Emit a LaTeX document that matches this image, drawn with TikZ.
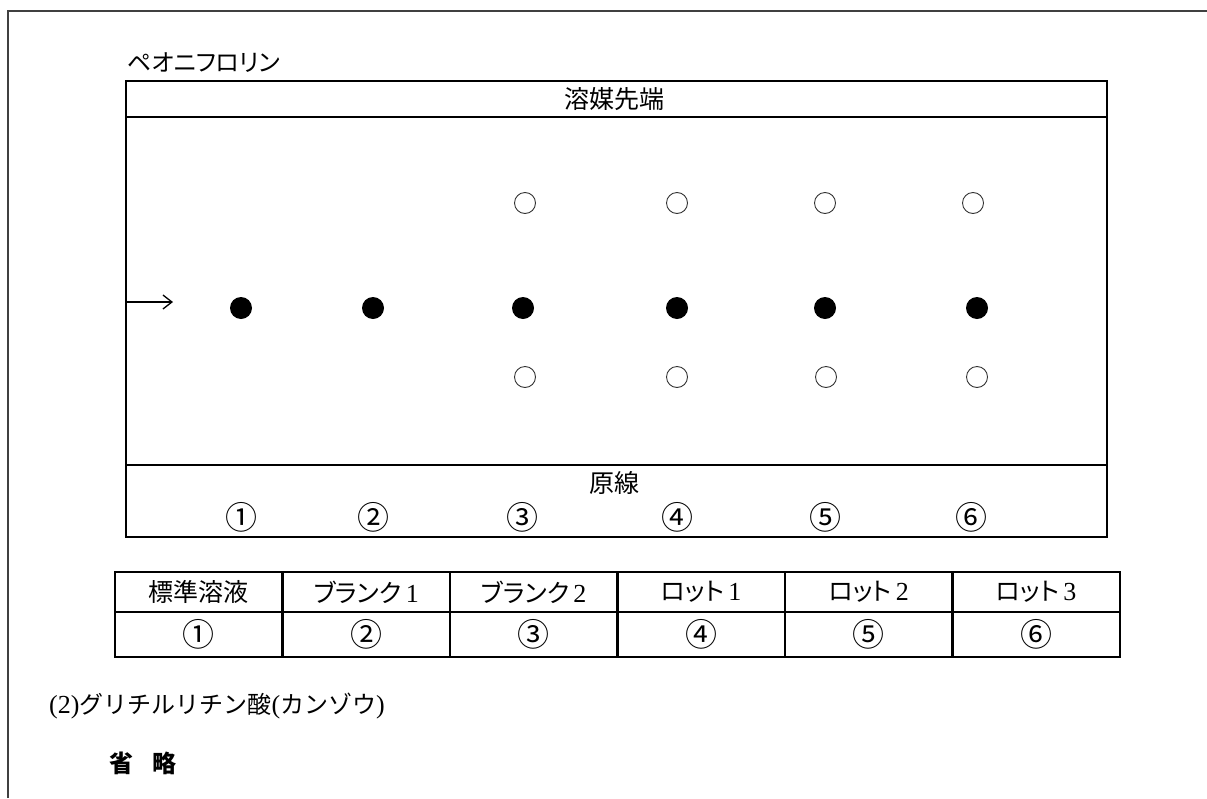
\documentclass[tikz,border=0pt]{standalone}
\usepackage{fontspec}
\setmainfont{Noto Sans CJK JP}
\newfontfamily\jp{Noto Sans CJK JP}
\newfontfamily\jpp{Noto Sans CJK JP}[RawFeature=+palt]
\newfontfamily\lat{Liberation Serif}
\newcommand{\cnum}[1]{{\fontsize{32}{34}\selectfont\jp #1}}
\newcommand{\ld}[1]{{\fontsize{26}{28}\selectfont\lat #1}}
\usetikzlibrary{arrows.meta}
\begin{document}
\begin{tikzpicture}[x=1pt,y=-1pt,
  txt/.style={inner sep=0pt, font=\fontsize{25}{27}\selectfont\jp},
  frame/.style={line width=2pt, black!75},
  plate/.style={line width=2.6pt},
  spot/.style={circle, fill=black, inner sep=0pt, minimum size=22pt},
  ring/.style={circle, draw=black!80, line width=0.9pt, inner sep=0pt, minimum size=21pt},
  cell/.style={draw, line width=2.2pt, minimum width=167.5pt, inner sep=0pt, font=\fontsize{25}{27}\selectfont\jp}]
\useasboundingbox (0,0) rectangle (1207,798);
% outer frame
\draw[frame] (8,798) -- (8,11) -- (1207,11);
% title
\node[txt, anchor=west, font=\fontsize{24}{26}\selectfont\jpp] (title) at (127,63) {ペオニフロリン};
% plate
\draw[plate] (126,81) rectangle (1107,537);
\draw[plate] (126,117) -- (1107,117);
\draw[plate] (126,465) -- (1107,465);
\node[txt] (front) at (614,99) {溶媒先端};
\node[txt] (origin) at (614,483) {原線};
% arrow
\coordinate (aL) at (127,302);
\coordinate (aR) at (173,302);
\draw[line width=1.3pt, -{Straight Barb[length=9pt,width=14pt,line width=1.3pt]}] (aL) -- (aR);
% spots
\foreach \i/\x in {1/241,2/373,3/523,4/677,5/825,6/977}{
  \node[spot] (s\i) at (\x,308) {};
}
\foreach \i/\x in {3/525,4/677,5/825,6/973}{
  \node[ring] (u\i) at (\x,203) {};
}
\foreach \i/\x in {3/525,4/677,5/826,6/977}{
  \node[ring] (l\i) at (\x,377) {};
}
% lane numbers
\foreach \i/\x/\c in {1/241/①,2/373/②,3/522/③,4/677/④,5/825/⑤,6/971/⑥}{
  \node[txt] (n\i) at (\x,517) {\cnum{\c}};
}
% table
\foreach \i/\t/\c in {1/標準溶液/①,2/{\jpp ブランク}\,\ld{1}/②,3/{\jpp ブランク}\,\ld{2}/③,4/{\jpp ロット}\,\ld{1}/④,5/{\jpp ロット}\,\ld{2}/⑤,6/{\jpp ロット}\,\ld{3}/⑥}{
  \node[cell, minimum height=40pt] (h\i) at ({115+167.5*(\i-0.5)},592) {\t};
  \node[cell, minimum height=45pt] (c\i) at ({115+167.5*(\i-0.5)},634.5) {\cnum{\c}};
}
% notes
\node[txt, anchor=west, font=\fontsize{24}{26}\selectfont\jp] (sec) at (49,706) {\ld{(2)}グリチルリチン酸\ld{(}カンゾウ\ld{)}};
\node[txt, anchor=west, font=\fontsize{24}{26}\selectfont\jp\bfseries] (omit) at (109,763) {省\hspace{19pt}略};
\end{tikzpicture}
\end{document}
